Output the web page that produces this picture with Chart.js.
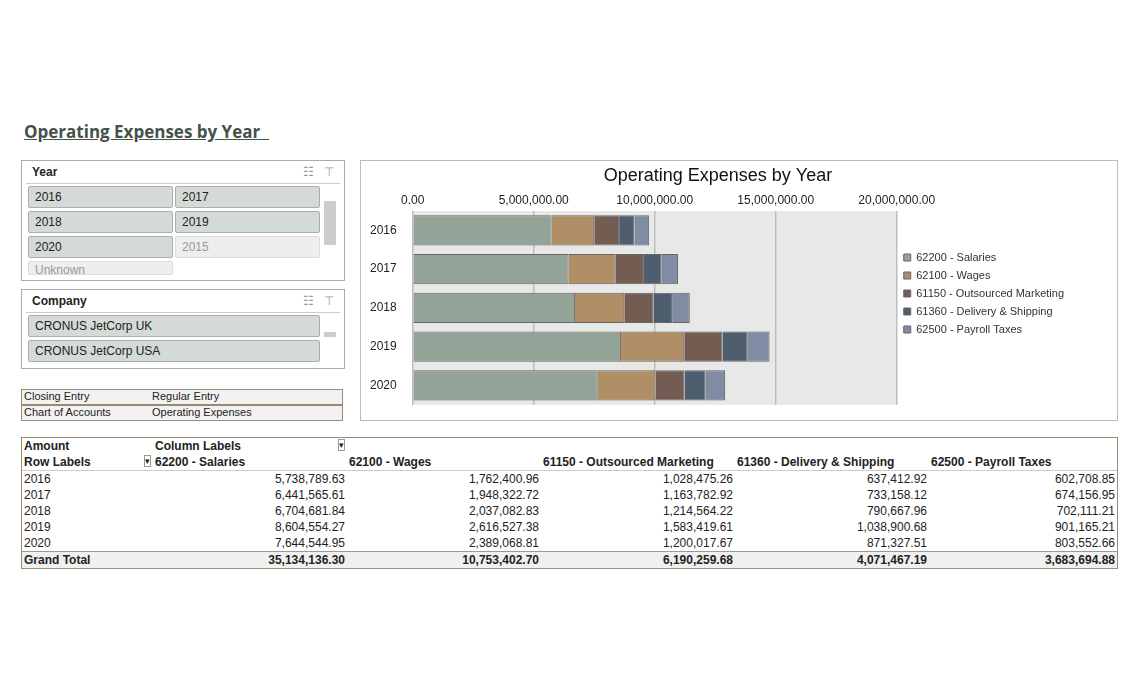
<!DOCTYPE html>
<html><head><meta charset="utf-8">
<script src="https://cdn.jsdelivr.net/npm/chart.js@4"></script>
<style>
body{margin:0;width:1140px;height:687px;background:#fff;font-family:"Liberation Sans",Arial,sans-serif;position:relative;overflow:hidden;color:#222}
.abs{position:absolute}
#title{left:24px;top:120px;font:bold 17px "Open Sans",sans-serif;color:#44524a;text-decoration:underline;letter-spacing:0}
.slicer{border:1px solid #aaa;background:#fff}
.sh{font:bold 12px "Liberation Sans";padding:4px 6px;border-bottom:1px solid #ccc;margin:0 4px;color:#222}
.btn{position:absolute;background:#d4dbd6;border:1px solid #a9b0ab;border-radius:2px;font-size:12px;padding:3px 6px;box-sizing:border-box;height:22px}
.dis{background:#eeeeee;border-color:#ddd;color:#999}
.filt{left:21px;width:322px;height:16px;border:1px solid #9c8a73;background:#f2f2f2;font-size:11px;box-sizing:border-box}
#chartbox{left:360px;top:160px;width:758px;height:261px;border:1px solid #bbb;box-sizing:border-box}
table{border-collapse:collapse;font-size:12px}
td{padding:0 2px;height:16px;line-height:15px}
.r{text-align:right}
</style></head><body>
<div id="title" class="abs">Operating Expenses by Year&nbsp;&nbsp;</div>

<div class="abs slicer" style="left:21px;top:160px;width:322px;height:119px">
<div class="sh">Year<span style="float:right;color:#999;font-weight:normal">☷&nbsp;&nbsp;&nbsp;⊤</span></div>
<div class="btn" style="left:6px;top:25px;width:145px">2016</div>
<div class="btn" style="left:153px;top:25px;width:145px">2017</div>
<div class="btn" style="left:6px;top:50px;width:145px">2018</div>
<div class="btn" style="left:153px;top:50px;width:145px">2019</div>
<div class="btn" style="left:6px;top:75px;width:145px">2020</div>
<div class="btn dis" style="left:153px;top:75px;width:145px">2015</div>
<div class="btn dis" style="left:6px;top:100px;width:145px;height:14px;overflow:hidden;padding-top:1px">Unknown</div>
<div class="abs" style="left:302px;top:40px;width:12px;height:44px;background:#ccc"></div>
</div>

<div class="abs slicer" style="left:21px;top:289px;width:322px;height:78px">
<div class="sh">Company<span style="float:right;color:#999;font-weight:normal">☷&nbsp;&nbsp;&nbsp;⊤</span></div>
<div class="btn" style="left:6px;top:25px;width:292px">CRONUS JetCorp UK</div>
<div class="btn" style="left:6px;top:50px;width:292px">CRONUS JetCorp USA</div>
<div class="abs" style="left:302px;top:42px;width:12px;height:5px;background:#ccc"></div>
</div>

<div class="abs filt" style="top:389px"><span class="abs" style="left:2px">Closing Entry</span><span class="abs" style="left:130px">Regular Entry</span></div>
<div class="abs filt" style="top:405px"><span class="abs" style="left:2px">Chart of Accounts</span><span class="abs" style="left:130px">Operating Expenses</span></div>

<div id="chartbox" class="abs"><canvas id="c" width="756" height="259"></canvas></div>

<div class="abs" style="left:21px;top:437px;width:1097px;height:132px;border:1px solid #9c8a73;box-sizing:border-box">
<table id="t" style="width:1095px"></table></div>

<script>
const years = ['2016','2017','2018','2019','2020'];
const accounts = ['62200 - Salaries','62100 - Wages','61150 - Outsourced Marketing','61360 - Delivery & Shipping','62500 - Payroll Taxes'];
const salaries = [5738789.63, 6441565.61, 6704681.84, 8604554.27, 7644544.95];
const wages = [1762400.96, 1948322.72, 2037082.83, 2616527.38, 2389068.81];
const marketing = [1028475.26, 1163782.92, 1214564.22, 1583419.61, 1200017.67];
const shipping = [637412.92, 733158.12, 790667.96, 1038900.68, 871327.51];
const payroll = [602708.85, 674156.95, 702111.21, 901165.21, 803552.66];
const totals = ['35,134,136.30','10,753,402.70','6,190,259.68','4,071,467.19','3,683,694.88'];
const colors = ['#93a397','#b08f66','#735c52','#4f5e6e','#7f8ca3'];

const series = [salaries, wages, marketing, shipping, payroll];
const fmt = v => v.toLocaleString('en-US',{minimumFractionDigits:2,maximumFractionDigits:2});

// plot area background
const bg = {id:'bg', beforeDraw(ch){const a=ch.chartArea,c=ch.ctx;c.save();c.fillStyle='#e8e8e8';c.fillRect(a.left,a.top,a.right-a.left,a.bottom-a.top);c.restore();}};

new Chart(document.getElementById('c'), {
  type:'bar',
  data:{labels:years, datasets:series.map((d,i)=>({label:accounts[i],data:d,backgroundColor:colors[i],borderColor:'#666',borderWidth:1,categoryPercentage:1,barPercentage:0.78}))},
  plugins:[bg],
  options:{
    indexAxis:'y', responsive:false, animation:false,
    layout:{padding:{left:1,right:43,top:0,bottom:-6}},
    plugins:{
      title:{display:true,text:'Operating Expenses by Year',color:'#111',font:{size:18,family:'Liberation Sans',weight:'normal'},padding:{top:4,bottom:4}},
      legend:{position:'right',align:'center',labels:{boxWidth:7,boxHeight:7,color:'#333',font:{size:11,family:'Liberation Sans'},padding:7}},
      tooltip:{enabled:false}
    },
    scales:{
      x:{position:'top',stacked:true,min:0,max:20000000,ticks:{stepSize:5000000,color:'#222',font:{size:12,family:'Liberation Sans'},callback:v=>fmt(v)},grid:{color:'#bdbdbd',lineWidth:1.5,drawTicks:false},border:{display:false}},
      y:{stacked:true,ticks:{color:'#222',font:{size:12,family:'Liberation Sans'},padding:8},grid:{display:false},border:{color:'#bbb'}}
    }
  }
});

const t = document.getElementById('t');
let h = '<tr><td style="width:127px"><b>Amount</b></td><td style="width:190px"><b>Column Labels</b><span style="float:right;border:1px solid #999;font-size:9px;line-height:10px">▾</span></td><td style="width:190px"></td><td style="width:190px"></td><td style="width:190px"></td><td></td></tr>';
h += '<tr style="border-bottom:1px solid #ccc"><td><b>Row Labels</b><span style="float:right;border:1px solid #999;font-size:9px;line-height:10px">▾</span></td>' + accounts.map(a=>'<td><b>'+a+'</b></td>').join('') + '</tr>';
years.forEach((y,r)=>{ h += '<tr><td>'+y+'</td>'+series.map(s=>'<td class="r">'+fmt(s[r])+'</td>').join('')+'</tr>'; });
h += '<tr style="border-top:1px solid #999;background:#f0f0f0"><td><b>Grand Total</b></td>'+totals.map(v=>'<td class="r"><b>'+v+'</b></td>').join('')+'</tr>';
t.innerHTML = h;
</script>
</body></html>
